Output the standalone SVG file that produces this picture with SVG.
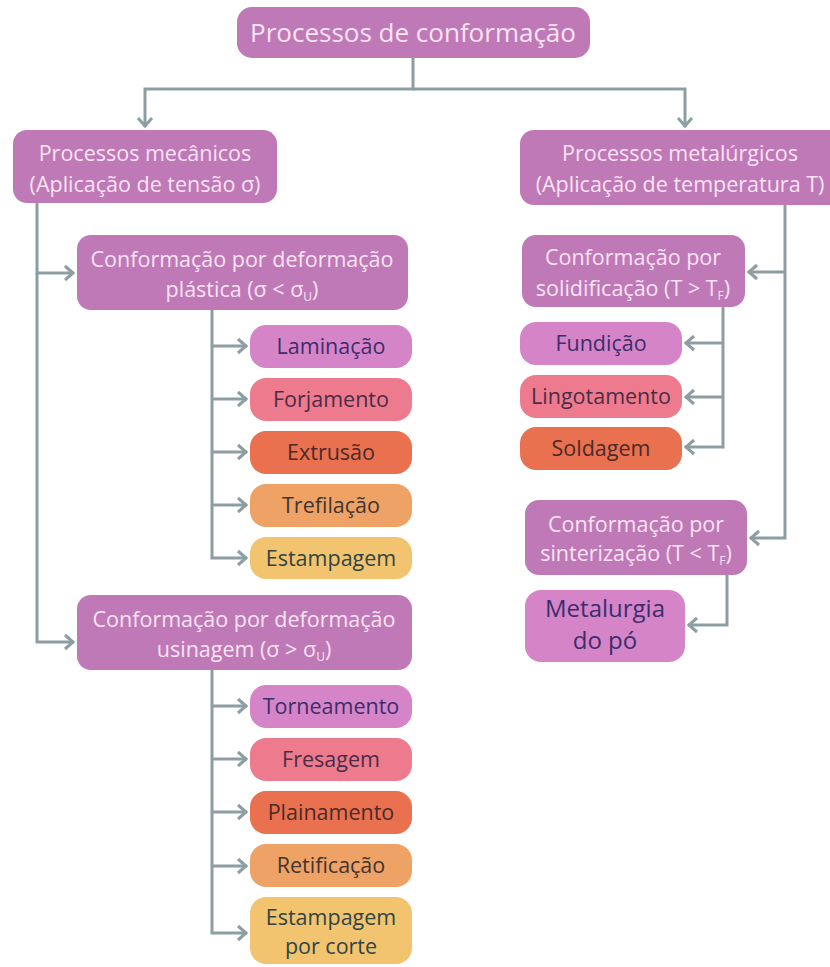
<svg xmlns="http://www.w3.org/2000/svg" width="830" height="967" viewBox="0 0 830 967">
<style>
text{font-family:"Open Sans","Noto Sans","Liberation Sans",sans-serif;text-anchor:middle}
.main rect{fill:#bf79b7}
.main text{fill:#f9e3f3;font-size:21.5px}
.leaf text{font-size:21.5px}
.c1 rect{fill:#d684c8}.c1 text{fill:#3b2e6c}
.c2 rect{fill:#ee7b8d}.c2 text{fill:#4a2c48}
.c3 rect{fill:#e9714f}.c3 text{fill:#4a2a2a}
.c4 rect{fill:#efa266}.c4 text{fill:#403530}
.c5 rect{fill:#f3c46f}.c5 text{fill:#2f4545}
.sub{font-size:12px}
#connectors path{fill:none;stroke:#8d9ea3;stroke-width:3}
</style>
<defs>
<marker id="ah" viewBox="-12 -9 14 18" refX="0" refY="0" markerWidth="14" markerHeight="18" markerUnits="userSpaceOnUse" orient="auto">
<path d="M-9,-7 L-1,0 L-9,7" fill="none" stroke="#8d9ea3" stroke-width="3"/>
</marker>
</defs>
<rect width="830" height="967" fill="#ffffff"/>
<g id="connectors">
<path d="M413,58 V89 H145 V127" marker-end="url(#ah)"/>
<path d="M413,89 H685 V127" marker-end="url(#ah)"/>
<path d="M37,203 V273 H74" marker-end="url(#ah)"/>
<path d="M37,273 V642 H74" marker-end="url(#ah)"/>
<path d="M212,310 V558 H247" marker-end="url(#ah)"/>
<path d="M212,346 H247" marker-end="url(#ah)"/>
<path d="M212,399 H247" marker-end="url(#ah)"/>
<path d="M212,452 H247" marker-end="url(#ah)"/>
<path d="M212,505 H247" marker-end="url(#ah)"/>
<path d="M212,670 V933 H247" marker-end="url(#ah)"/>
<path d="M212,706 H247" marker-end="url(#ah)"/>
<path d="M212,759 H247" marker-end="url(#ah)"/>
<path d="M212,812 H247" marker-end="url(#ah)"/>
<path d="M212,866 H247" marker-end="url(#ah)"/>
<path d="M785,205 V538 H750" marker-end="url(#ah)"/>
<path d="M785,272 H748" marker-end="url(#ah)"/>
<path d="M723,307 V447 H685" marker-end="url(#ah)"/>
<path d="M723,343 H685" marker-end="url(#ah)"/>
<path d="M723,397 H685" marker-end="url(#ah)"/>
<path d="M727,575 V625 H688" marker-end="url(#ah)"/>
</g>
<g id="root" class="main">
<rect x="237" y="7" width="353" height="51" rx="15"/>
<text x="413" y="42" style="font-size:26px">Processos de conformação</text>
</g>
<g id="mecanicos" class="main">
<rect x="13" y="130" width="264" height="73" rx="14"/>
<text x="145" y="161">Processos mecânicos</text>
<text x="145" y="192">(Aplicação de tensão σ)</text>
</g>
<g id="metalurgicos" class="main">
<rect x="520" y="130" width="330" height="75" rx="14"/>
<text x="680" y="161">Processos metalúrgicos</text>
<text x="680" y="192">(Aplicação de temperatura T)</text>
</g>
<g id="plastica" class="main">
<rect x="77" y="235" width="331" height="75" rx="14"/>
<text x="242" y="267">Conformação por deformação</text>
<text x="242" y="297">plástica (σ &lt; σ<tspan class="sub" dy="4">U</tspan><tspan dy="-4">)</tspan></text>
</g>
<g id="usinagem" class="main">
<rect x="77" y="595" width="335" height="75" rx="14"/>
<text x="244" y="627">Conformação por deformação</text>
<text x="244" y="657">usinagem (σ &gt; σ<tspan class="sub" dy="4">U</tspan><tspan dy="-4">)</tspan></text>
</g>
<g id="solidificacao" class="main">
<rect x="522" y="235" width="223" height="72" rx="14"/>
<text x="633" y="265">Conformação por</text>
<text x="633" y="296">solidificação (T &gt; T<tspan class="sub" dy="4">F</tspan><tspan dy="-4">)</tspan></text>
</g>
<g id="sinterizacao" class="main">
<rect x="525" y="500" width="222" height="75" rx="14"/>
<text x="636" y="532">Conformação por</text>
<text x="636" y="561">sinterização (T &lt; T<tspan class="sub" dy="4">F</tspan><tspan dy="-4">)</tspan></text>
</g>
<g id="laminacao" class="leaf c1"><rect x="250" y="325" width="162" height="43" rx="16"/><text x="331" y="354">Laminação</text></g>
<g id="forjamento" class="leaf c2"><rect x="250" y="378" width="162" height="43" rx="16"/><text x="331" y="407">Forjamento</text></g>
<g id="extrusao" class="leaf c3"><rect x="250" y="431" width="162" height="43" rx="16"/><text x="331" y="460">Extrusão</text></g>
<g id="trefilacao" class="leaf c4"><rect x="250" y="484" width="162" height="43" rx="16"/><text x="331" y="513">Trefilação</text></g>
<g id="estampagem" class="leaf c5"><rect x="250" y="537" width="162" height="42" rx="16"/><text x="331" y="566">Estampagem</text></g>
<g id="torneamento" class="leaf c1"><rect x="250" y="685" width="162" height="43" rx="16"/><text x="331" y="714">Torneamento</text></g>
<g id="fresagem" class="leaf c2"><rect x="250" y="738" width="162" height="43" rx="16"/><text x="331" y="767">Fresagem</text></g>
<g id="plainamento" class="leaf c3"><rect x="250" y="791" width="162" height="43" rx="16"/><text x="331" y="820">Plainamento</text></g>
<g id="retificacao" class="leaf c4"><rect x="250" y="844" width="162" height="43" rx="16"/><text x="331" y="873">Retificação</text></g>
<g id="estampagem-corte" class="leaf c5"><rect x="250" y="897" width="162" height="67" rx="16"/><text x="331" y="925">Estampagem</text><text x="331" y="954">por corte</text></g>
<g id="fundicao" class="leaf c1"><rect x="520" y="322" width="162" height="43" rx="16"/><text x="601" y="351">Fundição</text></g>
<g id="lingotamento" class="leaf c2"><rect x="520" y="375" width="162" height="43" rx="16"/><text x="601" y="404">Lingotamento</text></g>
<g id="soldagem" class="leaf c3"><rect x="520" y="427" width="162" height="43" rx="16"/><text x="601" y="456">Soldagem</text></g>
<g id="metalurgia" class="leaf c1"><rect x="525" y="590" width="160" height="72" rx="16"/><text x="605" y="617" style="font-size:24px">Metalurgia</text><text x="605" y="649" style="font-size:24px">do pó</text></g>
</svg>
